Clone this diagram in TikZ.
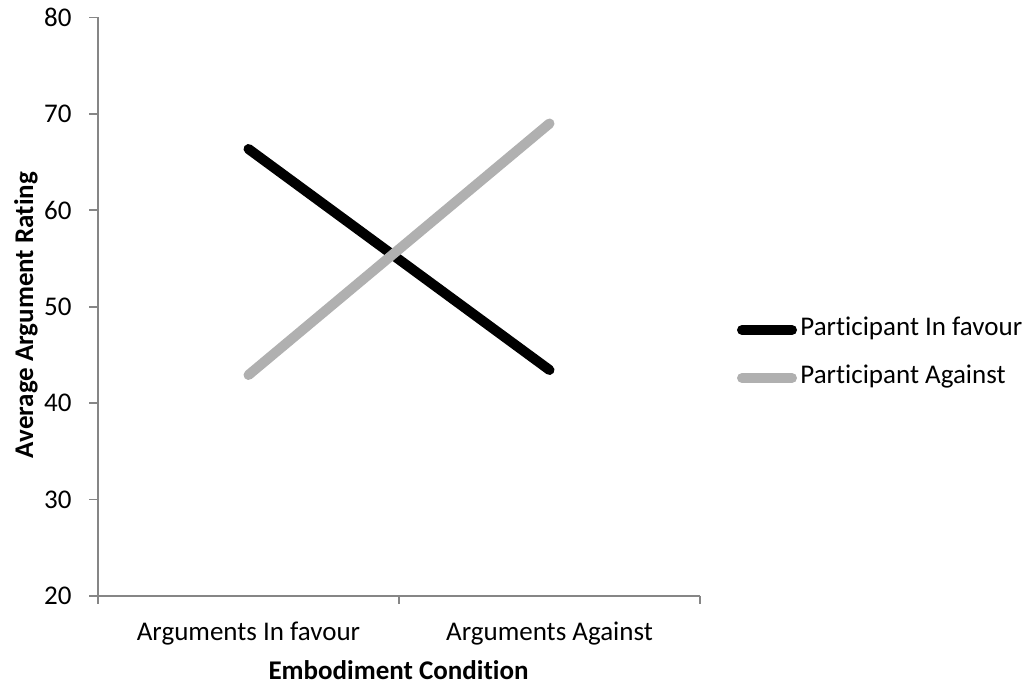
\documentclass[tikz,border=0pt]{standalone}
\usepackage{fontspec}
\setmainfont[Ligatures={NoCommon}]{Carlito}
\definecolor{axisgray}{HTML}{868686}
\definecolor{sergray}{HTML}{B0B0B0}
\begin{document}
\begin{tikzpicture}[x=0.5pt,y=-0.5pt,
  axisline/.style={draw=axisgray,line width=0.9pt},
  ticklbl/.style={inner sep=0pt,anchor=east,font=\fontsize{13.5}{16}\selectfont},
  catlbl/.style={inner sep=0pt,anchor=base,font=\fontsize{13.5}{16}\selectfont},
  titlelbl/.style={inner sep=0pt,anchor=base,font=\fontsize{13.5}{16}\selectfont\bfseries},
  serblack/.style={draw=black,line width=5pt,line cap=round},
  sergrey/.style={draw=sergray,line width=5pt,line cap=round},
  leglbl/.style={inner sep=0pt,anchor=base west,font=\fontsize{13.5}{16}\selectfont}]
\useasboundingbox (0,0) rectangle (1027,688);
% axes
\coordinate (ytop) at (98,17.5);
\coordinate (orig) at (98,596);
\coordinate (xend) at (700,596);
\draw[axisline] (ytop) -- (orig) -- (xend);
% y ticks and labels
\foreach \v/\yy in {80/17.5,70/113.9,60/210.3,50/306.8,40/403.2,30/499.6,20/596} {
  \coordinate (yt\v) at (89,\yy);
  \coordinate (ya\v) at (98,\yy);
  \draw[axisline] (yt\v) -- (ya\v);
  \node[ticklbl] (yl\v) at (72,\yy) {\v};
}
% x ticks
\foreach \i/\xx in {0/98,1/399,2/700} {
  \coordinate (xa\i) at (\xx,596);
  \coordinate (xt\i) at (\xx,604);
  \draw[axisline] (xa\i) -- (xt\i);
}
% category labels
\node[catlbl] (c1) at (248.5,640) {Arguments In favour};
\node[catlbl] (c2) at (549.5,640) {Arguments Against};
% axis titles
\node[titlelbl] (xtitle) at (398.5,679) {Embodiment Condition};
\node[titlelbl,rotate=90] (ytitle) at (33,315) {Average Argument Rating};
% data
\coordinate (b1) at (248.5,149);
\coordinate (b2) at (549.5,370);
\coordinate (g1) at (248.5,375);
\coordinate (g2) at (549.5,123.5);
\draw[serblack] (b1) -- (b2);
\draw[sergrey] (g1) -- (g2);
% legend
\coordinate (lb1) at (742,330);
\coordinate (lb2) at (792,330);
\coordinate (lg1) at (742,378);
\coordinate (lg2) at (792,378);
\draw[serblack] (lb1) -- (lb2);
\draw[sergrey] (lg1) -- (lg2);
\node[leglbl] (legb) at (800,336) {Participant In favour};
\node[leglbl] (legg) at (800,384) {Participant Against};
\end{tikzpicture}
\end{document}
